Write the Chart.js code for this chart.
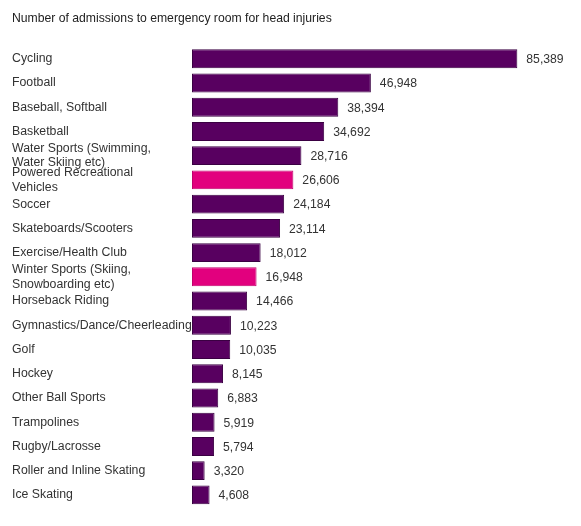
<!DOCTYPE html>
<html>
<head>
<meta charset="utf-8">
<script src="https://cdn.jsdelivr.net/npm/chart.js@4/dist/chart.umd.min.js"></script>
<style>
  html, body { margin: 0; padding: 0; background: #fff; }
  #wrap { width: 581px; height: 526px; position: relative; }
</style>
</head>
<body>
<div id="wrap"><canvas id="injuryChart"></canvas></div>
<script>
const sports = [
    "Cycling",
    "Football",
    "Baseball, Softball",
    "Basketball",
    ["Water Sports (Swimming,", "Water Skiing etc)"],
    ["Powered Recreational", "Vehicles"],
    "Soccer",
    "Skateboards/Scooters",
    "Exercise/Health Club",
    ["Winter Sports (Skiing,", "Snowboarding etc)"],
    "Horseback Riding",
    "Gymnastics/Dance/Cheerleading",
    "Golf",
    "Hockey",
    "Other Ball Sports",
    "Trampolines",
    "Rugby/Lacrosse",
    "Roller and Inline Skating",
    "Ice Skating"
];

const admissions = [85389, 46948, 38394, 34692, 28716, 26606, 24184, 23114, 18012, 16948,
    14466, 10223, 10035, 8145, 6883, 5919, 5794, 3320, 4608];

// sports shown in pink
const highlighted = [5, 9];

const purple = "#580060";
const purpleEdge = "#3a0042";
const pink = "#e2007e";
const pinkEdge = "#c0006c";
const fontFamily = "'Liberation Sans', Arial, sans-serif";

const valueLabels = {
    id: "valueLabels",
    afterDatasetsDraw(chart) {
        const c = chart.ctx;
        const meta = chart.getDatasetMeta(0);
        c.save();
        c.font = "12.2px " + fontFamily;
        c.fillStyle = "#333";
        c.textAlign = "left";
        c.textBaseline = "middle";
        meta.data.forEach((bar, i) => {
            c.fillText(admissions[i].toLocaleString("en-US"), bar.x + 9, bar.y + 1);
        });
        c.restore();
    }
};

const ctx = document.getElementById("injuryChart");

new Chart(ctx, {
    type: "bar",
    data: {
        labels: sports,
        datasets: [{
            data: admissions,
            backgroundColor: admissions.map((v, i) => highlighted.includes(i) ? pink : purple),
            borderColor: admissions.map((v, i) => highlighted.includes(i) ? pinkEdge : purpleEdge),
            borderWidth: 1,
            borderSkipped: false,
            categoryPercentage: 1,
            barPercentage: 0.78
        }]
    },
    options: {
        indexAxis: "y",
        responsive: true,
        maintainAspectRatio: false,
        animation: false,
        layout: {
            padding: { left: 12, right: 8, top: 0, bottom: 19 }
        },
        plugins: {
            legend: { display: false },
            tooltip: { enabled: false },
            title: {
                display: true,
                text: "Number of admissions to emergency room for head injuries",
                align: "start",
                color: "#222",
                font: { family: fontFamily, size: 12.2, weight: "normal" },
                padding: { top: 11, bottom: 21 }
            }
        },
        scales: {
            x: {
                display: false,
                min: 0,
                max: 100000
            },
            y: {
                grid: { display: false },
                border: { display: false },
                afterFit(scale) { scale.width = 180; },
                ticks: {
                    autoSkip: false,
                    crossAlign: "far",
                    color: "#333",
                    padding: 0,
                    font: { family: fontFamily, size: 12.3, lineHeight: 1.2 }
                }
            }
        }
    },
    plugins: [valueLabels]
});
</script>
</body>
</html>
